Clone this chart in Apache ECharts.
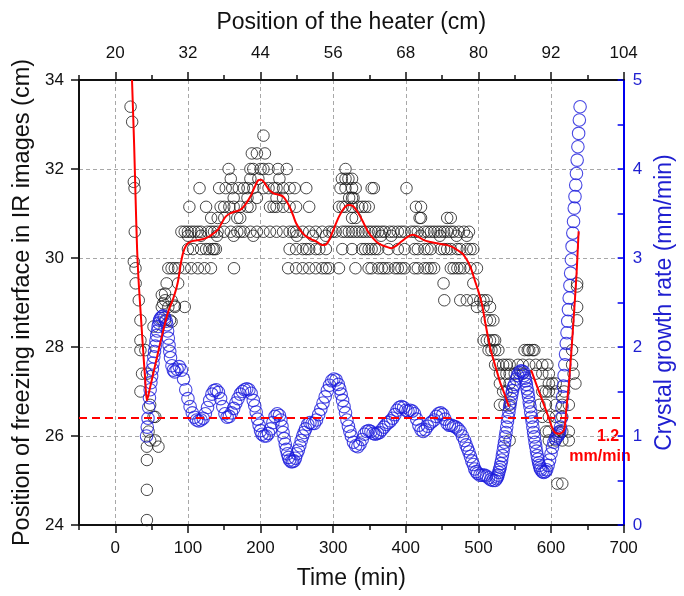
<!DOCTYPE html>
<html><head><meta charset="utf-8">
<script src="https://cdn.jsdelivr.net/npm/echarts@6/dist/echarts.min.js"></script>
<style>html,body{margin:0;padding:0;background:#fff}#c{width:684px;height:596px}</style>
</head><body><div id="c"></div>
<script>
// ---- tick labels ----
const timeTicks = [0, 100, 200, 300, 400, 500, 600, 700];
const heaterTicks = [20, 32, 44, 56, 68, 80, 92, 104];

// ---- freezing-interface position (cm): quantised rows, level + times (min) ----
const freezeRowLevels = [32.75, 32.35, 32.0, 31.78, 31.57, 31.35, 31.15, 30.9, 30.59, 30.5, 30.2, 29.77, 29.43, 29.05, 28.9, 28.6, 28.15, 27.93, 27.6, 27.4, 27.18, 27.0, 26.7, 26.43, 26.1, 25.9, 25.76, 25.46, 24.93, 24.79, 24.11];
const freezeRowTimes = [
  [204],
  [188, 195, 206],
  [156, 186, 190, 200, 204, 211, 224, 236, 317],
  [159, 186, 197, 226, 312, 317, 321, 326],
  [116, 143, 152, 161, 170, 177, 182, 190, 204, 211, 218, 222, 231, 240, 247, 263, 310, 317, 326, 331, 353, 356, 401],
  [163, 182, 195, 222, 231, 322, 326, 328],
  [102, 125, 145, 150, 157, 163, 172, 182, 186, 213, 218, 222, 231, 240, 249, 267, 308, 313, 317, 326, 335, 340, 344, 349, 414, 421],
  [132, 141, 150, 168, 172, 326, 331, 419, 421, 457, 462],
  [91, 95.6, 100, 104.6, 109, 113.7, 118, 127, 131.7, 136, 140.8, 149.8, 159, 168, 172.4, 177, 186, 195, 204, 213, 222, 231, 240, 245, 249, 258, 267, 276, 285, 294.5, 299, 303.5, 312.6, 317, 321.6, 326, 330.7, 335, 339.7, 344, 348.8, 353, 357.8, 362, 367, 371, 378, 383, 389, 394, 398.5, 407.5, 412, 416.6, 425.6, 430, 434.6, 439, 443.7, 448, 452.7, 457, 462, 466, 473, 480, 487],
  [100, 118, 140, 163, 190, 250, 272, 290, 366, 380, 420, 447, 470, 484],
  [100, 107, 118, 125, 129.5, 134, 136, 138.5, 240, 249, 258, 263, 267, 276, 281, 290, 312.6, 326, 339.7, 344, 348.8, 353, 357.8, 362, 376, 389, 398.5, 412, 416.6, 425.6, 430, 434.6, 448, 452.7, 457, 462, 471, 475, 484, 489, 493],
  [73, 77.5, 82, 86.5, 95.6, 104.6, 113.7, 122.7, 131.7, 163.4, 238, 249, 258, 267, 276, 285, 290, 294.5, 308, 330.7, 348.8, 353, 362, 367, 371, 376, 385, 389, 394, 398.5, 412, 416.6, 425.6, 430, 434.6, 439, 462, 466, 471, 475, 480, 489, 498],
  [28, 70.7, 86.5, 452, 493, 636],
  [32.3, 68.5, 77.5, 453, 475, 484, 493, 502.5, 507, 511.5],
  [64, 73, 82, 95.6, 498, 507, 516, 636],
  [34.6, 68.5, 75.3, 511.5, 516, 520.6, 636],
  [34.6, 507, 511.5, 516, 520.6, 523],
  [34.6, 41.4, 514, 518, 523, 527.5, 563.5, 568, 570, 574.8, 577, 629],
  [523, 527.5, 534, 538.6, 543, 554.5, 561, 570, 579, 588, 595, 629],
  [36.8, 43.5, 529.6, 538.6, 543, 550, 561, 579, 588, 597, 631],
  [529.6, 543, 597, 602, 606.5, 633.6],
  [34.6, 534, 538.6, 588, 593, 597, 606.5, 618],
  [48, 529.6, 536, 543, 584, 593, 606.5, 615.5, 624.5],
  [52.6, 55, 588, 597, 606.5, 615.5],
  [45.8, 593, 597, 611, 615.5, 624.5],
  [48, 55, 543, 597, 606.5, 615.5, 624.5],
  [43.5, 59.4],
  [43.5],
  [608.7, 615.5],
  [43.5],
  [43.5]
];
const freezeExtra = [[21, 33.4], [23.2, 33.06], [25.5, 31.71], [26.5, 31.57], [26.8, 30.59], [25.5, 29.92], [27.8, 29.77], [52.6, 28.46], [68.5, 29.2], [64, 29.17], [66, 28.98], [77.5, 28.57], [82, 28.93], [635.8, 29.36]];

// ---- red fitted curve (cm) ----
const fitTime = [23, 26, 28, 30, 32, 35, 38, 41, 43.5, 48, 55, 62, 68, 73, 80, 86, 91, 95, 100, 106, 113, 120, 129, 135, 141, 147, 152, 158, 164, 172, 179, 186, 192, 197, 201, 205, 211, 218, 225, 231, 236, 240, 245, 249, 256, 263, 270, 277, 285, 290, 295, 302, 308, 315, 321, 327, 333, 340, 347, 353, 360, 367, 374, 380, 387, 394, 402, 410, 418, 425, 434, 443, 450, 457, 464, 471, 478, 484, 489, 495, 500, 505, 510, 516, 521, 525, 530, 534, 538, 542, 557, 572.6, 580, 588, 596, 604, 611, 617.8, 621, 624.6, 628, 631.3, 635, 638];
const fitPos = [34.0, 32.5, 31.3, 30.2, 29.5, 28.75, 28.0, 27.3, 26.8, 27.1, 27.6, 28.1, 28.5, 28.8, 29.1, 29.45, 29.95, 30.2, 30.33, 30.38, 30.4, 30.42, 30.48, 30.55, 30.63, 30.8, 30.93, 31.0, 31.04, 31.08, 31.2, 31.38, 31.6, 31.75, 31.76, 31.7, 31.55, 31.45, 31.42, 31.38, 31.27, 31.15, 30.95, 30.78, 30.6, 30.48, 30.42, 30.37, 30.29, 30.3, 30.42, 30.7, 30.93, 31.12, 31.19, 31.17, 31.05, 30.85, 30.62, 30.48, 30.36, 30.29, 30.25, 30.22, 30.28, 30.37, 30.47, 30.52, 30.47, 30.4, 30.36, 30.33, 30.31, 30.29, 30.25, 30.18, 30.1, 29.96, 29.8, 29.5, 29.25, 28.95, 28.5, 28.0, 27.7, 27.48, 27.2, 27.03, 26.85, 26.66, null, 27.48, 27.15, 26.8, 26.45, 26.1, 26.05, 26.13, 26.6, 27.18, 27.9, 28.68, 29.6, 30.6];

// ---- crystal growth rate (mm/min) ----
const growthTime = [43, 44, 45, 46, 47, 48, 49, 50, 51, 52, 53, 54, 55, 56, 57, 58, 59, 60, 61, 62, 64, 66, 68, 70, 71, 72, 73, 74, 75, 76, 78, 80, 82, 85, 88, 91, 94, 97, 100, 103, 106, 109, 112, 115, 118, 121, 124, 127, 130, 133, 136, 139, 142, 145, 148, 151, 154, 157, 160, 163, 166, 169, 172, 175, 178, 181, 184, 187, 190, 192, 194, 196, 198, 200, 202, 205, 208, 211, 214, 217, 220, 223, 226, 228, 229.5, 231, 232.5, 234, 235.5, 237, 238.5, 240, 242, 244, 246, 248, 250, 252, 254, 256, 258, 260, 262, 265, 268, 271, 274, 277, 280, 283, 286, 289, 292, 295, 298, 301, 304, 307, 309, 311, 313, 315, 317, 319, 321, 323, 325, 328, 331, 334, 337, 340, 343, 346, 349, 352, 355, 358, 361, 364, 367, 370, 373, 376, 379, 382, 385, 388, 391, 394, 397, 400, 403, 406, 409, 412, 415, 418, 421, 424, 427, 430, 433, 436, 439, 442, 445, 448, 451, 454, 457, 460, 463, 466, 469, 472, 475, 478, 481, 483, 485, 487, 489, 491, 493, 495, 497, 499, 502, 505, 508, 511, 514, 517, 520, 523, 525, 526, 527, 528, 529, 530, 531, 532, 533, 534, 535, 536, 537, 538, 539, 540, 541, 542, 543, 544, 545, 546, 547, 548, 550, 552, 554, 556, 558, 560, 562, 563, 564, 565, 566, 567, 568, 569, 570, 571, 572, 573, 574, 575, 576, 577, 578, 579, 580, 581, 582, 583, 584, 585, 586, 588, 590, 592, 594, 596, 598, 600, 602, 604, 606, 608, 610, 611, 612, 613, 614, 615, 616, 617, 618, 619, 620, 621, 622, 623, 624, 625, 626, 627, 628, 629, 630, 631, 632, 633, 634, 635, 636, 637, 638, 639, 640];
const growthRate = [1.0, 1.1, 1.2, 1.32, 1.43, 1.52, 1.6, 1.67, 1.75, 1.82, 1.89, 1.95, 2.01, 2.07, 2.13, 2.18, 2.23, 2.27, 2.3, 2.32, 2.34, 2.35, 2.33, 2.29, 2.25, 2.18, 2.1, 2.02, 1.95, 1.88, 1.79, 1.74, 1.72, 1.75, 1.78, 1.74, 1.64, 1.52, 1.42, 1.33, 1.26, 1.21, 1.18, 1.17, 1.18, 1.2, 1.25, 1.32, 1.4, 1.47, 1.51, 1.52, 1.49, 1.42, 1.33, 1.25, 1.21, 1.22, 1.26, 1.31, 1.37, 1.42, 1.47, 1.5, 1.52, 1.53, 1.52, 1.48, 1.4, 1.34, 1.27, 1.19, 1.12, 1.06, 1.02, 1.0, 1.0, 1.03, 1.08, 1.15, 1.22, 1.25, 1.23, 1.18, 1.11, 1.04, 0.97, 0.91, 0.85, 0.8, 0.76, 0.73, 0.71, 0.71, 0.72, 0.75, 0.8, 0.84, 0.89, 0.95, 1.0, 1.04, 1.08, 1.13, 1.15, 1.14, 1.14, 1.18, 1.24, 1.3, 1.37, 1.44, 1.51, 1.57, 1.62, 1.64, 1.63, 1.58, 1.53, 1.47, 1.4, 1.33, 1.26, 1.18, 1.11, 1.05, 1.0, 0.93, 0.89, 0.88, 0.91, 0.96, 1.02, 1.05, 1.06, 1.05, 1.03, 1.02, 1.03, 1.04, 1.07, 1.1, 1.13, 1.15, 1.17, 1.2, 1.24, 1.29, 1.32, 1.33, 1.32, 1.29, 1.28, 1.29, 1.28, 1.25, 1.19, 1.12, 1.07, 1.05, 1.07, 1.11, 1.14, 1.16, 1.18, 1.22, 1.25, 1.26, 1.24, 1.19, 1.14, 1.12, 1.12, 1.11, 1.1, 1.08, 1.05, 1.0, 0.95, 0.9, 0.86, 0.82, 0.77, 0.72, 0.68, 0.63, 0.6, 0.58, 0.56, 0.56, 0.56, 0.55, 0.53, 0.51, 0.5, 0.5, 0.52, 0.54, 0.56, 0.59, 0.62, 0.65, 0.69, 0.73, 0.78, 0.83, 0.88, 0.93, 0.99, 1.04, 1.1, 1.16, 1.21, 1.27, 1.32, 1.37, 1.42, 1.47, 1.51, 1.55, 1.58, 1.64, 1.68, 1.71, 1.73, 1.73, 1.72, 1.68, 1.65, 1.62, 1.58, 1.53, 1.49, 1.44, 1.38, 1.33, 1.27, 1.21, 1.16, 1.1, 1.04, 0.99, 0.93, 0.88, 0.83, 0.78, 0.74, 0.7, 0.67, 0.64, 0.62, 0.6, 0.59, 0.6, 0.62, 0.67, 0.73, 0.8, 0.87, 0.93, 0.97, 0.99, 1.01, 1.03, 1.05, 1.1, 1.2, 1.32, 1.44, 1.56, 1.68, 1.8, 1.92, 2.04, 2.16, 2.29, 2.42, 2.55, 2.69, 2.83, 2.98, 3.13, 3.28, 3.41, 3.56, 3.69, 3.82, 3.95, 4.1, 4.25, 4.4, 4.55, 4.7, 4.78];
const growthReference = 1.2;
const referenceLabel = ['1.2', 'mm/min'];

// ---- build series data ----
const freezeData = [];
freezeRowLevels.forEach((lv, i) => freezeRowTimes[i].forEach(t => freezeData.push([t, lv])));
freezeExtra.forEach(p => freezeData.push(p));
const fitData = fitTime.map((t, i) => [t, fitPos[i]]);
const growthData = growthTime.map((t, i) => [t, growthRate[i]]);

const FONT = '"Liberation Sans", Arial, sans-serif';
const BLACK = '#111';
const BLUE = '#0000f0';
const BLUE_TXT = '#1f1fd0';
const GRID = '#a8a8a8';

const chart = echarts.init(document.getElementById('c'), null, {renderer: 'canvas'});
const xBase = {type: 'value', min: -50, max: 700, gridIndex: 0};
chart.setOption({
  animation: false,
  textStyle: {fontFamily: FONT},
  grid: {left: 79, right: 52, top: 80, bottom: 71, containLabel: false},
  xAxis: [
    Object.assign({}, xBase, {
      position: 'bottom', interval: 50,
      axisLine: {show: true, onZero: false, lineStyle: {color: BLACK, width: 2}},
      axisTick: {show: true, length: 5, lineStyle: {color: BLACK, width: 1.5}},
      axisLabel: {fontSize: 17, color: BLACK, margin: 15, fontFamily: FONT,
        formatter: v => timeTicks.indexOf(v) >= 0 ? String(v) : ''},
      splitLine: {show: false},
      name: 'Time (min)', nameLocation: 'middle', nameGap: 42,
      nameTextStyle: {fontSize: 23, color: BLACK, fontFamily: FONT}
    }),
    Object.assign({}, xBase, {
      position: 'top', interval: 50,
      axisLine: {show: true, onZero: false, lineStyle: {color: BLACK, width: 2}},
      axisTick: {show: true, length: 5, lineStyle: {color: BLACK, width: 1.5}},
      axisLabel: {fontSize: 17, color: BLACK, margin: 18, fontFamily: FONT,
        formatter: v => { const i = timeTicks.indexOf(v); return i >= 0 ? String(heaterTicks[i]) : ''; }},
      splitLine: {show: false},
      name: 'Position of the heater (cm)', nameLocation: 'middle', nameGap: 46,
      nameTextStyle: {fontSize: 23, color: BLACK, fontFamily: FONT}
    }),
    Object.assign({}, xBase, {
      position: 'bottom',
      axisLine: {show: false, onZero: false},
      axisTick: {show: true, length: 8, customValues: timeTicks, lineStyle: {color: BLACK, width: 1.5}},
      axisLabel: {show: false},
      splitLine: {show: true, lineStyle: {color: GRID, width: 1, type: [4, 3]}}
    }),
    Object.assign({}, xBase, {
      position: 'top',
      axisLine: {show: false, onZero: false},
      axisTick: {show: true, length: 8, customValues: timeTicks, lineStyle: {color: BLACK, width: 1.5}},
      axisLabel: {show: false},
      splitLine: {show: false}
    })
  ],
  yAxis: [
    {
      type: 'value', position: 'left', min: 24, max: 34, interval: 2,
      axisLine: {show: true, onZero: false, lineStyle: {color: BLACK, width: 2}},
      axisTick: {show: true, length: 8, lineStyle: {color: BLACK, width: 1.5}},
      axisLabel: {fontSize: 17, color: BLACK, margin: 15, fontFamily: FONT},
      splitLine: {show: true, lineStyle: {color: GRID, width: 1, type: [4, 3]}},
      name: 'Position of freezing interface in IR images (cm)', nameLocation: 'middle', nameGap: 40,
      nameTextStyle: {fontSize: 23.5, color: BLACK, fontFamily: FONT}
    },
    {
      type: 'value', position: 'right', min: 0, max: 5, interval: 0.5,
      axisLine: {show: true, onZero: false, lineStyle: {color: BLUE, width: 2}},
      axisTick: {show: true, inside: true, length: 6, lineStyle: {color: BLUE, width: 1.5}},
      axisLabel: {fontSize: 17, color: BLUE_TXT, margin: 9, fontFamily: FONT,
        formatter: v => Number.isInteger(v) ? String(v) : ''},
      splitLine: {show: false},
      name: 'Crystal growth rate (mm/min)', nameLocation: 'middle', nameGap: 29,
      nameTextStyle: {fontSize: 23, color: BLUE_TXT, fontFamily: FONT}
    }
  ],
  series: [
    {
      type: 'scatter', xAxisIndex: 0, yAxisIndex: 0, data: freezeData,
      symbol: 'circle', symbolSize: 11.5, silent: true,
      itemStyle: {color: 'rgba(0,0,0,0)', borderColor: '#1a1a1a', borderWidth: 1}
    },
    {
      type: 'line', xAxisIndex: 0, yAxisIndex: 0, data: fitData,
      showSymbol: false, smooth: 0.3, connectNulls: false, silent: true,
      lineStyle: {color: '#ff0000', width: 2}
    },
    {
      type: 'scatter', xAxisIndex: 0, yAxisIndex: 1, data: growthData,
      symbol: 'circle', symbolSize: 12.5, silent: true,
      itemStyle: {color: 'rgba(0,0,0,0)', borderColor: '#1c1cdc', borderWidth: 1.1},
      markLine: {
        silent: true, symbol: 'none', label: {show: false},
        lineStyle: {color: '#ff0000', width: 2, type: [8, 5]},
        data: [{yAxis: growthReference}]
      }
    }
  ],
  graphic: [
    {type: 'text', x: 608, y: 437, silent: true,
     style: {text: referenceLabel[0], fill: '#ff0000', font: 'bold 16px ' + FONT, align: 'center', verticalAlign: 'middle'}},
    {type: 'text', x: 600, y: 457, silent: true,
     style: {text: referenceLabel[1], fill: '#ff0000', font: 'bold 16px ' + FONT, align: 'center', verticalAlign: 'middle'}}
  ]
});
</script>
</body></html>
